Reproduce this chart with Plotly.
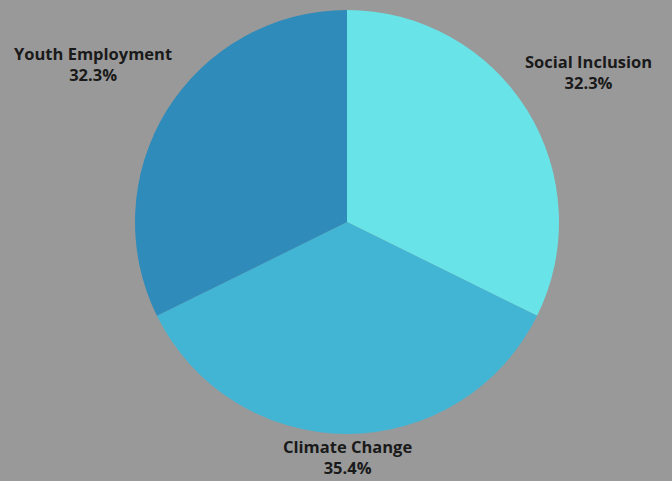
import math
import plotly.graph_objects as go

# Share of focus areas
labels = ["Social Inclusion", "Climate Change", "Youth Employment"]
values = [32.3, 35.4, 32.3]
colors = ["#68E4E8", "#42B5D5", "#2E8BBA"]

W, H = 672, 481
cx, cy, r = 347, 222, 212

# Distance of each label centre from the pie centre, as a multiple of the radius
label_dist = {"Social Inclusion": 1.34, "Climate Change": 1.108, "Youth Employment": 1.41}

fig = go.Figure(
    go.Pie(
        labels=labels,
        values=values,
        sort=False,
        direction="clockwise",
        rotation=0,
        marker=dict(colors=colors, line=dict(width=0)),
        textinfo="none",
        showlegend=False,
        hoverinfo="label+percent",
        domain=dict(
            x=[(cx - r) / W, (cx + r) / W],
            y=[(H - (cy + r)) / H, (H - (cy - r)) / H],
        ),
    )
)

# Labels placed along each slice's mid-angle, outside the pie
total = sum(values)
start = 0.0
for lab, val in zip(labels, values):
    frac = val / total
    mid = (start + frac / 2) * 2 * math.pi  # clockwise from 12 o'clock
    start += frac
    d = label_dist[lab] * r
    px = cx + d * math.sin(mid)
    py = cy - d * math.cos(mid)
    fig.add_annotation(
        x=px / W,
        y=1 - py / H,
        xref="paper",
        yref="paper",
        xanchor="center",
        yanchor="middle",
        showarrow=False,
        text=f"<b>{lab}</b><br><b>{frac * 100:.1f}%</b>",
        font=dict(family="Open Sans", size=16.5, color="#1a1a1a"),
        align="center",
    )

fig.update_layout(
    width=W,
    height=H,
    margin=dict(l=0, r=0, t=0, b=0),
    paper_bgcolor="#999999",
    plot_bgcolor="#999999",
)

fig.write_html("out.html")
